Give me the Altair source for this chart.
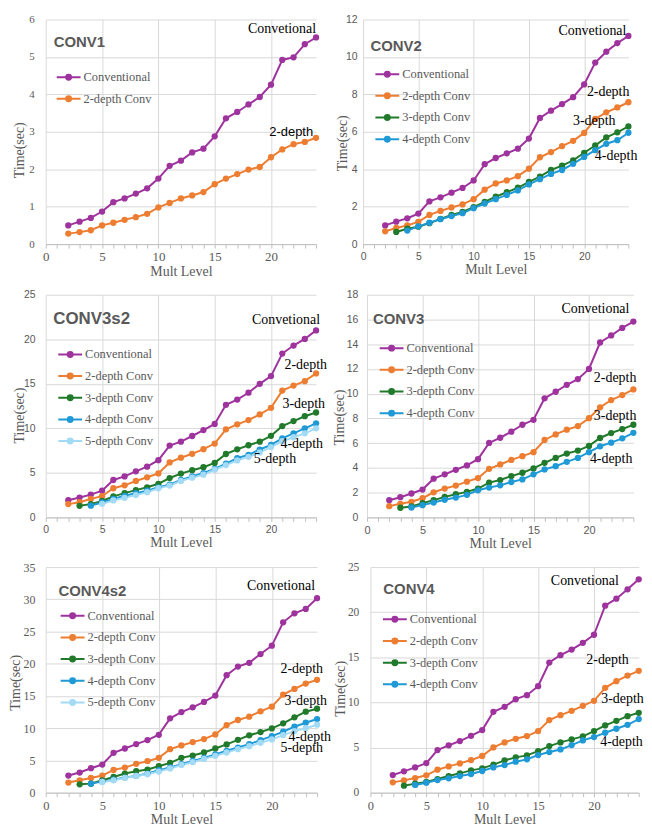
import altair as alt
import pandas as pd

# ---------------- data ----------------
SERIES = ["Conventional", "2-depth Conv", "3-depth Conv", "4-depth Conv", "5-depth Conv"]
FIRST_LEVEL = [2, 2, 3, 4, 5]
COLORS = ["#9E339E", "#ED7D31", "#217A2B", "#1F9AD6", "#A3DBF6"]
END_TEXT = ["Convetional", "2-depth", "3-depth", "4-depth", "5-depth"]

conv1_conventional = [0.50, 0.60, 0.70, 0.87, 1.12, 1.22, 1.35, 1.49, 1.75, 2.09, 2.23, 2.45, 2.55, 2.88, 3.36, 3.53, 3.73, 3.93, 4.26, 4.92, 4.99, 5.34, 5.52]
conv1_2depth = [0.28, 0.32, 0.37, 0.50, 0.57, 0.65, 0.72, 0.81, 0.98, 1.10, 1.22, 1.30, 1.39, 1.60, 1.75, 1.87, 1.99, 2.06, 2.32, 2.53, 2.67, 2.73, 2.84]

conv2_conventional = [1.00, 1.20, 1.38, 1.63, 2.28, 2.50, 2.75, 3.00, 3.40, 4.27, 4.60, 4.85, 5.10, 5.64, 6.74, 7.13, 7.48, 7.85, 8.53, 9.70, 10.28, 10.74, 11.12]
conv2_2depth = [0.68, 0.86, 1.00, 1.19, 1.56, 1.77, 1.96, 2.12, 2.40, 2.91, 3.24, 3.40, 3.63, 4.03, 4.64, 4.92, 5.24, 5.52, 5.94, 6.69, 7.04, 7.30, 7.58]
conv2_3depth = [0.65, 0.82, 0.93, 1.12, 1.35, 1.56, 1.72, 1.97, 2.26, 2.54, 2.77, 3.01, 3.33, 3.61, 3.96, 4.19, 4.47, 4.88, 5.27, 5.70, 5.97, 6.29]
conv2_4depth = [0.72, 0.95, 1.14, 1.33, 1.50, 1.65, 1.92, 2.17, 2.40, 2.63, 2.87, 3.19, 3.47, 3.75, 3.96, 4.29, 4.66, 5.02, 5.36, 5.55, 5.95]

conv3s2_conventional = [1.93, 2.23, 2.56, 3.00, 4.20, 4.60, 5.17, 5.70, 6.43, 8.07, 8.50, 9.14, 9.80, 10.50, 12.64, 13.23, 14.00, 15.00, 15.87, 18.40, 19.30, 20.04, 21.00]
conv3s2_2depth = [1.49, 1.70, 2.08, 2.38, 3.27, 3.60, 4.09, 4.50, 4.94, 6.17, 6.70, 7.14, 7.66, 8.29, 9.89, 10.45, 10.93, 11.56, 12.30, 14.24, 14.80, 15.30, 16.17]
conv3s2_3depth = [1.30, 1.49, 1.84, 2.36, 2.72, 3.06, 3.38, 3.77, 4.42, 4.92, 5.30, 5.63, 6.12, 7.12, 7.64, 8.10, 8.50, 9.16, 10.26, 10.82, 11.36, 11.78]
conv3s2_4depth = [1.32, 1.67, 2.08, 2.42, 2.72, 3.00, 3.38, 3.68, 4.20, 4.60, 4.98, 5.44, 6.04, 6.65, 7.03, 7.62, 8.14, 8.88, 9.44, 10.00, 10.56]
conv3s2_5depth = [1.52, 1.90, 2.20, 2.50, 2.83, 3.27, 3.57, 4.09, 4.46, 4.80, 5.35, 5.87, 6.40, 6.80, 7.30, 7.90, 8.55, 9.00, 9.44, 10.00]

conv3_conventional = [1.39, 1.63, 1.93, 2.25, 3.13, 3.48, 3.85, 4.20, 4.71, 6.02, 6.44, 6.93, 7.49, 7.89, 9.63, 10.16, 10.72, 11.18, 12.00, 14.14, 14.71, 15.32, 15.83]
conv3_2depth = [0.91, 1.10, 1.26, 1.55, 2.03, 2.33, 2.57, 2.89, 3.18, 3.93, 4.28, 4.65, 4.95, 5.27, 6.26, 6.71, 7.09, 7.38, 8.02, 8.90, 9.49, 9.89, 10.35]
conv3_3depth = [0.78, 0.88, 1.15, 1.39, 1.66, 1.87, 2.06, 2.33, 2.81, 3.02, 3.34, 3.61, 3.96, 4.41, 4.81, 5.16, 5.40, 5.78, 6.42, 6.82, 7.14, 7.49]
conv3_4depth = [0.80, 0.99, 1.20, 1.42, 1.60, 1.82, 2.19, 2.41, 2.59, 2.86, 3.07, 3.48, 3.88, 4.14, 4.49, 4.81, 5.27, 5.75, 6.04, 6.39, 6.84]

conv4s2_conventional = [2.65, 3.12, 3.79, 4.36, 6.18, 6.85, 7.53, 8.15, 8.98, 11.53, 12.51, 13.24, 14.07, 15.06, 18.22, 19.57, 20.15, 21.50, 22.80, 26.43, 27.83, 28.50, 30.17]
conv4s2_2depth = [1.56, 1.92, 2.28, 2.65, 3.53, 3.89, 4.47, 4.88, 5.40, 6.75, 7.32, 7.84, 8.31, 9.03, 10.49, 11.27, 11.79, 12.62, 13.34, 15.21, 16.10, 16.93, 17.50]
conv4s2_3depth = [1.30, 1.40, 1.92, 2.44, 2.96, 3.32, 3.58, 4.10, 4.62, 5.40, 5.76, 6.23, 6.85, 7.48, 8.20, 8.90, 9.40, 9.97, 10.75, 11.68, 12.56, 13.03]
conv4s2_4depth = [1.40, 1.71, 2.02, 2.34, 2.60, 2.96, 3.48, 3.90, 4.41, 4.93, 5.40, 5.92, 6.49, 7.00, 7.53, 8.15, 8.77, 9.45, 10.23, 10.85, 11.42]
conv4s2_5depth = [1.66, 1.92, 2.28, 2.60, 2.86, 3.27, 3.75, 4.30, 4.72, 5.24, 5.71, 6.23, 6.75, 7.20, 7.74, 8.26, 8.93, 9.55, 10.00, 10.54]

conv4_conventional = [1.95, 2.36, 2.80, 3.28, 4.72, 5.24, 5.72, 6.30, 6.93, 8.96, 9.51, 10.36, 10.80, 11.80, 14.42, 15.23, 15.86, 16.60, 17.50, 20.72, 21.50, 22.53, 23.64]
conv4_2depth = [1.14, 1.36, 1.62, 1.92, 2.54, 2.91, 3.24, 3.61, 4.06, 5.01, 5.57, 5.97, 6.27, 6.82, 8.04, 8.59, 9.07, 9.62, 10.18, 11.62, 12.35, 12.98, 13.50]
conv4_3depth = [0.77, 1.00, 1.18, 1.51, 1.84, 2.14, 2.47, 2.69, 3.10, 3.58, 3.91, 4.13, 4.61, 5.16, 5.57, 5.90, 6.23, 6.82, 7.45, 7.96, 8.48, 8.85]
conv4_4depth = [0.85, 1.10, 1.40, 1.59, 1.84, 2.06, 2.40, 2.80, 3.06, 3.43, 3.69, 4.17, 4.50, 4.79, 5.27, 5.79, 6.16, 6.64, 7.08, 7.52, 8.15]

panel_names = ["CONV1", "CONV2", "CONV3s2", "CONV3", "CONV4s2", "CONV4"]
panel_series = [
    [conv1_conventional, conv1_2depth],
    [conv2_conventional, conv2_2depth, conv2_3depth, conv2_4depth],
    [conv3s2_conventional, conv3s2_2depth, conv3s2_3depth, conv3s2_4depth, conv3s2_5depth],
    [conv3_conventional, conv3_2depth, conv3_3depth, conv3_4depth],
    [conv4s2_conventional, conv4s2_2depth, conv4s2_3depth, conv4s2_4depth, conv4s2_5depth],
    [conv4_conventional, conv4_2depth, conv4_3depth, conv4_4depth],
]
panel_ymax = [6, 12, 25, 18, 35, 25]
panel_ystep = [1, 2, 5, 2, 5, 5]
X_MAX = 24

# ---------------- styles ----------------
SERIF = "Liberation Serif"
SANS = "Liberation Sans"
GRAY = "#595959"
GRID = "#D9D9D9"
LEGEND_PATH = "M-1.2,0L1.2,0M-0.25,0A0.25,0.25,0,1,1,0.25,0A0.25,0.25,0,1,1,-0.25,0Z"

styles = [
    dict(w=272, h=226, tick_font=SERIF, xfs=13, yfs=11, ylp=11.7, ytx=-19.2, yty=131,
         title_fs=15, title_dx=8, title_off=-37, lx=12, ly=47,
         labels=[(0, -5, SERIF), (-3, -2, SANS)]),
    dict(w=267, h=226, tick_font=SANS, xfs=10.5, yfs=10.5, ylp=6, ytx=-13.8, yty=124,
         title_fs=15, title_dx=7.5, title_off=-40, lx=13.4, ly=44,
         labels=[(-2, -1, SERIF), (1, -6.6, SERIF), (-13, -1, SERIF), (9, 27, SERIF)]),
    dict(w=272, h=224, tick_font=SANS, xfs=10.5, yfs=10.5, ylp=10.7, ytx=-19.2, yty=121,
         title_fs=17, title_dx=7.5, title_off=-38, lx=13.6, ly=49,
         labels=[(4, -6.3, SERIF), (11, -4.6, SERIF), (9, -5, SERIF), (7, 25, SERIF), (-20, 34.7, SERIF)]),
    dict(w=268, h=224, tick_font=SANS, xfs=11, yfs=10.5, ylp=9.3, ytx=-21.1, yty=123,
         title_fs=15, title_dx=6, title_off=-37.7, lx=13.7, ly=42.7,
         labels=[(-4, -8.7, SERIF), (3, -7.6, SERIF), (3, -5, SERIF), (-1, 30, SERIF)]),
    dict(w=273, h=227, tick_font=SERIF, xfs=12.5, yfs=12, ylp=11, ytx=-23.8, yty=116,
         title_fs=15, title_dx=12.8, title_off=-38.2, lx=16, ly=38,
         labels=[(-2, -8, SERIF), (6, -7.3, SERIF), (10, -3.7, SERIF), (14, 22, SERIF), (6, 27, SERIF)]),
    dict(w=270, h=227, tick_font=SERIF, xfs=12.5, yfs=11.5, ylp=11.7, ytx=-23.5, yty=122,
         title_fs=15, title_dx=13, title_off=-35.8, lx=13.6, ly=41.6,
         labels=[(-20, 6, SERIF), (-10, -6.7, SERIF), (5, -9.4, SERIF), (4, 27, SERIF)]),
]


def build_panel(k):
    name = panel_names[k]
    series = panel_series[k]
    s = styles[k]
    n = len(series)
    rows = []
    for i, vals in enumerate(series):
        for j, v in enumerate(vals):
            rows.append({"level": FIRST_LEVEL[i] + j, "time": v, "series": SERIES[i]})
    df = pd.DataFrame(rows)

    x_enc = alt.X(
        "level:Q",
        scale=alt.Scale(domain=[0, X_MAX], nice=False, zero=True),
        axis=alt.Axis(
            values=list(range(0, X_MAX + 1)),
            labelExpr="datum.value % 5 === 0 ? datum.label : ''",
            labelOverlap=False,
            labelFlush=False,
            labelFont=s["tick_font"], labelFontSize=s["xfs"], labelColor=GRAY,
            labelPadding=3,
            tickSize=4, tickColor="#BFBFBF", tickWidth=1,
            domainColor="#BFBFBF", domainWidth=1,
            grid=True, gridColor=GRID, gridWidth=1,
            gridOpacity={"condition": {"test": "datum.value % 5 === 0", "value": 1}, "value": 0},
            title="Mult Level", titleFont=SERIF, titleFontSize=14,
            titleFontWeight=400, titleColor=GRAY, titlePadding=1,
        ),
    )
    y_enc = alt.Y(
        "time:Q",
        scale=alt.Scale(domain=[0, panel_ymax[k]], nice=False),
        axis=alt.Axis(
            values=list(range(0, panel_ymax[k] + 1, panel_ystep[k])),
            ticks=False, domain=False,
            labelFont=s["tick_font"], labelFontSize=s["yfs"], labelColor=GRAY,
            labelPadding=s["ylp"],
            grid=True, gridColor=GRID, gridWidth=1,
            title="Time(sec)", titleFont=SERIF, titleFontSize=14,
            titleFontWeight=400, titleColor=GRAY,
            titleX=s["ytx"], titleY=s["yty"], titleAngle=-90, titleAlign="center",
            titleBaseline="bottom",
        ),
    )
    color_enc = alt.Color(
        "series:N",
        scale=alt.Scale(domain=SERIES[:n], range=COLORS[:n]),
        legend=alt.Legend(
            title=None, orient="none", legendX=s["lx"], legendY=s["ly"],
            symbolType=LEGEND_PATH, symbolSize=400, symbolStrokeWidth=2,
            symbolOpacity=1, labelFont=SERIF, labelFontSize=12.5, labelColor=GRAY,
            labelOffset=4, rowPadding=3.8, padding=0,
        ),
        sort=SERIES[:n],
    )

    base = alt.Chart(df)
    lines = base.mark_line(strokeWidth=2).encode(x=x_enc, y=y_enc, color=color_enc)
    points = base.mark_point(filled=True, size=40, opacity=1).encode(x=x_enc, y=y_enc, color=color_enc)

    layers = [lines, points]
    for i in range(n):
        dx, dy, font = s["labels"][i]
        lab = pd.DataFrame({"level": [FIRST_LEVEL[i] + len(series[i]) - 1],
                            "time": [series[i][-1]],
                            "label": [END_TEXT[i]]})
        fs = 13 if font == SANS else 14
        layers.append(
            alt.Chart(lab).mark_text(align="right", baseline="alphabetic", dx=dx, dy=dy,
                                     font=font, fontSize=fs, color="black")
            .encode(x=x_enc, y=y_enc, text="label:N")
        )

    return alt.layer(*layers).properties(
        width=s["w"], height=s["h"],
        title=alt.TitleParams(
            text=name, anchor="start", orient="top", frame="group",
            font=SANS, fontSize=s["title_fs"], fontWeight="bold", color=GRAY,
            dx=s["title_dx"], offset=s["title_off"],
        ),
    )


panels = [build_panel(k) for k in range(6)]


def row(a, b, sp):
    return (alt.hconcat(a, b, spacing=sp, bounds="flush")
            .resolve_scale(color="independent", x="independent", y="independent")
            .resolve_legend(color="independent"))


row1 = row(panels[0], panels[1], 47.3)
row2 = row(panels[2], panels[3], 51.3)
row3 = row(panels[4], panels[5], 53.7)

chart = (
    alt.vconcat(row1, row2, row3, spacing=11)
    .resolve_scale(color="independent", x="independent", y="independent")
    .resolve_legend(color="independent")
    .properties(padding={"left": 0, "top": 3, "right": 0, "bottom": 0}, background="white")
    .configure_view(stroke=None)
    .configure_axis(titleFontWeight=400)
)

chart.save("out.html", embed_options={"renderer": "svg", "actions": False})
